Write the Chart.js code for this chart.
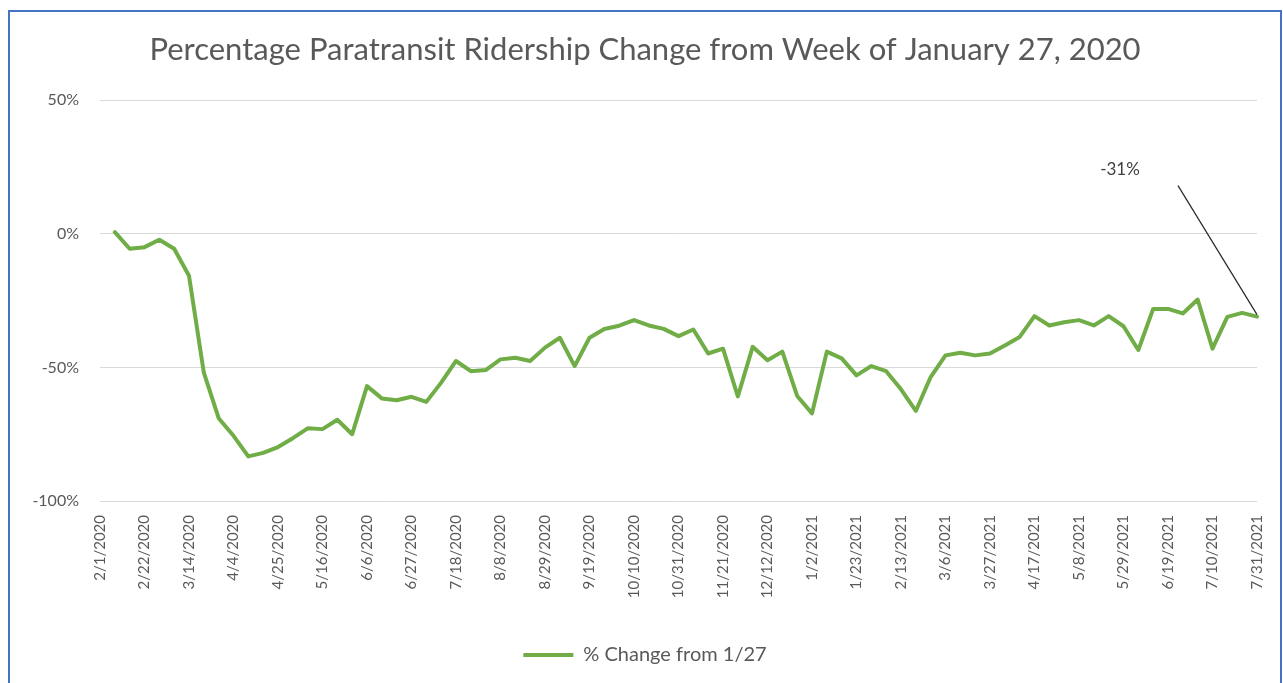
<!DOCTYPE html>
<html>
<head>
<meta charset="utf-8">
<script src="https://cdn.jsdelivr.net/npm/chart.js@4.4.1/dist/chart.umd.min.js"></script>
<style>
  html, body { margin: 0; padding: 0; background: #ffffff; }
  #wrap { position: relative; width: 1283px; height: 683px; overflow: hidden; background: #ffffff; }
  #frame { position: absolute; left: 8px; top: 10px; width: 1270px; height: 700px; border: 2px solid #4472C4; box-sizing: content-box; pointer-events: none; }
  canvas { position: absolute; left: 0; top: 0; }
</style>
</head>
<body>
<div id="wrap">
  <canvas id="c" width="1283" height="683"></canvas>
  <div id="frame"></div>
</div>
<script>
const chartTitle = 'Percentage Paratransit Ridership Change from Week of January 27, 2020';
const seriesName = '% Change from 1/27';

const weeks = [
  '2/1/2020','2/8/2020','2/15/2020','2/22/2020','2/29/2020','3/7/2020','3/14/2020','3/21/2020','3/28/2020',
  '4/4/2020','4/11/2020','4/18/2020','4/25/2020','5/2/2020','5/9/2020','5/16/2020','5/23/2020','5/30/2020',
  '6/6/2020','6/13/2020','6/20/2020','6/27/2020','7/4/2020','7/11/2020','7/18/2020','7/25/2020','8/1/2020',
  '8/8/2020','8/15/2020','8/22/2020','8/29/2020','9/5/2020','9/12/2020','9/19/2020','9/26/2020','10/3/2020',
  '10/10/2020','10/17/2020','10/24/2020','10/31/2020','11/7/2020','11/14/2020','11/21/2020','11/28/2020','12/5/2020',
  '12/12/2020','12/19/2020','12/26/2020','1/2/2021','1/9/2021','1/16/2021','1/23/2021','1/30/2021','2/6/2021',
  '2/13/2021','2/20/2021','2/27/2021','3/6/2021','3/13/2021','3/20/2021','3/27/2021','4/3/2021','4/10/2021',
  '4/17/2021','4/24/2021','5/1/2021','5/8/2021','5/15/2021','5/22/2021','5/29/2021','6/5/2021','6/12/2021',
  '6/19/2021','6/26/2021','7/3/2021','7/10/2021','7/17/2021','7/24/2021','7/31/2021'
];

const pctChange = [
  null, 0.6, -5.6, -5.0, -2.2, -5.6, -15.7, -52.0, -69.0,
  -75.6, -83.3, -82.0, -79.8, -76.5, -72.8, -73.1, -69.6, -75.0,
  -57.0, -61.6, -62.3, -61.0, -62.9, -55.7, -47.6, -51.4, -51.0,
  -47.0, -46.4, -47.6, -42.6, -38.9, -49.5, -38.9, -35.6, -34.4,
  -32.3, -34.3, -35.6, -38.3, -35.8, -44.8, -43.0, -60.9, -42.3,
  -47.3, -44.1, -60.7, -67.2, -44.1, -46.6, -53.0, -49.5, -51.4,
  -58.2, -66.3, -53.6, -45.5, -44.5, -45.5, -44.8, -41.8, -38.6,
  -30.8, -34.3, -33.1, -32.3, -34.3, -30.8, -34.6, -43.5, -28.1,
  -28.1, -29.8, -24.6, -43.0, -31.1, -29.6, -31.0
];

const yMin = -100;
const yMax = 50;
const yStep = 50;
const labelEvery = 3;

const FONT = 'Lato, "Open Sans", "DejaVu Sans", sans-serif';
const GREY = '#595959';
const GREEN = '#70AD47';

const calloutPlugin = {
  id: 'callout',
  afterDatasetsDraw(chart) {
    const meta = chart.getDatasetMeta(0);
    const lastIdx = pctChange.length - 1;
    const pt = meta.data[lastIdx];
    if (!pt) return;
    const ctx = chart.ctx;
    ctx.save();
    ctx.strokeStyle = '#262626';
    ctx.lineWidth = 1.2;
    ctx.beginPath();
    ctx.moveTo(pt.x - 79, pt.y - 131);
    ctx.lineTo(pt.x, pt.y - 2);
    ctx.stroke();
    ctx.fillStyle = '#404040';
    ctx.font = '17px ' + FONT;
    ctx.textAlign = 'center';
    ctx.textBaseline = 'middle';
    ctx.fillText(Math.round(pctChange[lastIdx]) + '%', pt.x - 137, pt.y - 147);
    ctx.restore();
  }
};

new Chart(document.getElementById('c'), {
  type: 'line',
  data: {
    labels: weeks,
    datasets: [{
      label: seriesName,
      data: pctChange,
      borderColor: GREEN,
      backgroundColor: GREEN,
      borderWidth: 4,
      borderCapStyle: 'round',
      borderJoinStyle: 'round',
      pointRadius: 0,
      pointHoverRadius: 0,
      tension: 0,
      fill: false,
      spanGaps: false
    }]
  },
  options: {
    responsive: false,
    animation: false,
    events: [],
    layout: { padding: { left: 33, right: 26, top: 0, bottom: 8 } },
    plugins: {
      title: {
        display: true,
        text: chartTitle,
        color: GREY,
        font: { family: FONT, size: 31, weight: '400', lineHeight: 1.2 },
        padding: { top: 31, bottom: 32 }
      },
      legend: {
        display: true,
        position: 'bottom',
        labels: {
          color: GREY,
          font: { family: FONT, size: 20 },
          usePointStyle: true,
          pointStyle: 'line',
          pointStyleWidth: 50,
          padding: 10
        }
      },
      tooltip: { enabled: false }
    },
    scales: {
      x: {
        type: 'category',
        offset: false,
        grid: { display: false, drawTicks: false },
        border: { display: false },
        ticks: {
          autoSkip: false,
          minRotation: 90,
          maxRotation: 90,
          padding: 14,
          color: GREY,
          font: { family: FONT, size: 15 },
          callback: function(value, index) { return index % labelEvery === 0 ? weeks[index] : ''; }
        },
        afterFit(scale) { scale.height = 134; scale.paddingLeft = 0; scale.paddingRight = 0; }
      },
      y: {
        min: yMin,
        max: yMax,
        grid: { color: '#D9D9D9', lineWidth: 1, drawTicks: false },
        border: { display: false },
        ticks: {
          stepSize: yStep,
          padding: 21,
          color: GREY,
          font: { family: FONT, size: 16 },
          callback: function(v) { return v + '%'; }
        },
        afterFit(scale) { scale.width = 67; }
      }
    }
  },
  plugins: [calloutPlugin]
});
</script>
</body>
</html>
